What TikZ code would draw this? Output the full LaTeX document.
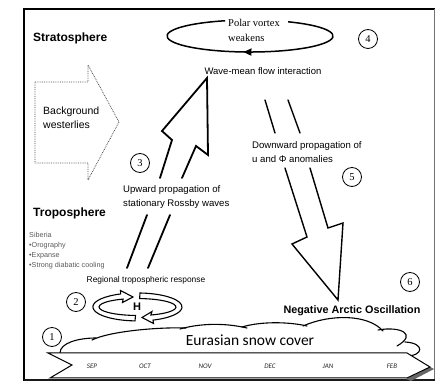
\documentclass[tikz,border=0pt]{standalone}
\usepackage{fontspec}
\setmainfont{Liberation Sans}
\newfontfamily\serifF{Liberation Serif}
\newfontfamily\calib{Carlito}
\usetikzlibrary{arrows.meta,decorations.markings,calc}
\tikzset{
  numc/.style={circle, draw, line width=0.8pt, minimum size=19pt, inner sep=0pt,
    font=\serifF\fontsize{10.5}{12}\selectfont},
  upar/.style={line width=1.8pt, line join=miter, line cap=round},
  dnar/.style={line width=1.4pt, line join=miter, line cap=round},
  lbl/.style={inner sep=0pt, align=left},
  ribbon/.style={draw, fill=white, line width=1.1pt, line join=miter},
  cloudline/.style={line width=1.1pt, line cap=round},
  month/.style={inner sep=0pt, font=\calib\itshape\fontsize{7}{8}\selectfont, black!85},
}
\begin{document}
\begin{tikzpicture}[x=1pt,y=-1pt]
\useasboundingbox (0,0) rectangle (437,382);

% frame
\draw[line width=2.5pt] (24,381) -- (24,9) -- (435,9);
\draw[black!55, line width=1.5pt] (434.5,9) -- (434.5,380);
\draw[black!90, line width=2.5pt] (24,380) -- (435,380);

% titles
\node[lbl, anchor=west, font=\bfseries\fontsize{12}{14}\selectfont] (strat) at (33,38) {Stratosphere};
\node[lbl, anchor=west, font=\bfseries\fontsize{12}{14}\selectfont] (trop) at (33,213) {Troposphere};

% background westerlies (dotted arrow)
\draw[black!70, line width=0.8pt, densely dotted] (35,82) -- (88,82) -- (88,65) -- (119,122) -- (88,180) -- (88,163) -- (35,163) -- cycle;
\node[lbl, anchor=west, font=\fontsize{10.5}{14}\selectfont] (bw) at (43,118) {Background\\westerlies};

% polar vortex
\draw[line width=1.5pt, postaction={decorate},
  decoration={markings, mark=at position 0.5 with {\arrow{Triangle[length=8pt,width=7pt]}}}]
  (288.1,21.8) arc[start angle=62.7, end angle=-252.5, x radius=83pt, y radius=16pt];
\node[lbl, anchor=west, font=\serifF\fontsize{10.5}{15}\selectfont] (pv) at (228,30.5) {Polar vortex\\weakens};
\node[numc] (c4) at (368,39) {4};

\node[inner sep=0pt, font=\fontsize{9.5}{11}\selectfont] (wm) at (263,71) {Wave-mean flow interaction};

% upward arrow
\draw[upar] (160,178) -- (172,140) -- (162,131) -- (207,78) -- (208,155) -- (196,146) -- (182,178);
\draw[upar] (147,215) -- (127,268);
\draw[upar] (170,215) -- (148,268);
\node[numc] (c3) at (140,163) {3};
\node[lbl, anchor=west, font=\fontsize{9.6}{14}\selectfont] (up) at (123,197) {Upward propagation of\\stationary Rossby waves};

% downward arrow
\draw[dnar] (265,100) -- (275,133);
\draw[dnar] (288,100) -- (300,133);
\draw[dnar] (285,168) -- (307,237) -- (292,244) -- (338,300) -- (343,223) -- (328,228) -- (310,168);
\node[lbl, anchor=west, font=\fontsize{9.6}{14}\selectfont] (down) at (252,152) {Downward propagation of\\u and Φ anomalies};
\node[numc] (c5) at (352,177) {5};

% troposphere list
\node[lbl, anchor=west, black!65, font=\fontsize{7.2}{10}\selectfont] (sib) at (29,251) {Siberia\\•Orography\\•Expanse\\•Strong diabatic cooling};

\node[inner sep=0pt, font=\fontsize{8.4}{10}\selectfont] (reg) at (146,280) {Regional tropospheric response};
\node[numc] (c2) at (76,302) {2};

% H circulation ribbon
\coordinate (hc) at (137.5,307);
\draw[ribbon] (135,320.9) arc[start angle=267, end angle=112, x radius=44.5pt, y radius=14pt]
  -- (120.5,290.5) -- (133,297) -- (122.5,302.5) -- (123.1,299.1)
  arc[start angle=112, end angle=267, x radius=38.5pt, y radius=8.5pt] -- cycle;
\draw[ribbon] (140,293) arc[start angle=86.8, end angle=-69.6, x radius=44.5pt, y radius=14pt]
  -- (153.5,323.5) -- (142,317.5) -- (152,311.5) -- (150.9,315)
  arc[start angle=-69.6, end angle=86.8, x radius=38.5pt, y radius=8.5pt] -- cycle;
\node[inner sep=0pt, font=\bfseries\fontsize{11}{12}\selectfont] (H) at (137,307) {H};

% snow cover cloud
\draw[cloudline] (60,353) .. controls (60,343) and (78,338) .. (96,338);
\draw[cloudline] (92,340) .. controls (110,331) and (160,327) .. (186,328);
\draw[cloudline] (180,329) .. controls (205,322) and (230,324) .. (247,328);
\draw[cloudline] (242,327) .. controls (262,321) and (290,322) .. (307,326);
\draw[cloudline] (303,326) .. controls (330,314) and (368,314) .. (383,331);
\draw[cloudline] (378,330) .. controls (400,326) and (418,334) .. (397,346);
\draw[cloudline] (405,342) .. controls (425,343) and (424,356) .. (406,356);
\node[inner sep=0pt, font=\calib\fontsize{15.5}{17}\selectfont] (snow) at (250,340) {Eurasian snow cover};
\node[numc] (c1) at (52,337) {1};

% timeline band
\fill[black!60] (430,367) -- (434,369) -- (411,381) -- (406,379) -- cycle;
\draw[fill=white, line width=1pt, line join=miter] (48,353) -- (407,353) -- (430,367) -- (407,378) -- (50,378) -- (72,365) -- cycle;
\node[month] (sep) at (92,366) {SEP};
\node[month] (oct) at (145,366) {OCT};
\node[month] (nov) at (205,366) {NOV};
\node[month] (dec) at (270,366) {DEC};
\node[month] (jan) at (328,366) {JAN};
\node[month] (feb) at (392,366) {FEB};

% negative AO
\node[inner sep=0pt, font=\bfseries\fontsize{10.8}{12}\selectfont] (nao) at (352,311) {Negative Arctic Oscillation};
\node[numc] (c6) at (410,282) {6};
\end{tikzpicture}
\end{document}
